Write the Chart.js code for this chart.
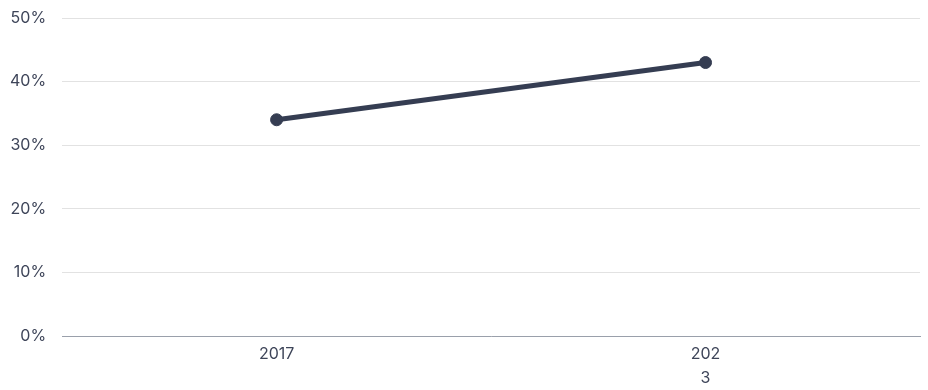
<!DOCTYPE html>
<html>
<head>
<meta charset="utf-8">
<script src="https://cdn.jsdelivr.net/npm/chart.js@4/dist/chart.umd.min.js"></script>
<style>
  html, body { margin: 0; padding: 0; background: #fff; }
  #wrap { width: 928px; height: 390px; }
</style>
</head>
<body>
<div id="wrap"><canvas id="chart"></canvas></div>
<script>
const years = ['2017', ['202', '3']];
const shares = [34, 43];
const yTicks = [0, 10, 20, 30, 40, 50];

const ink = '#353d52';
const textColor = '#3e4559';

const ctx = document.getElementById('chart').getContext('2d');

const myChart = new Chart(ctx, {
  type: 'line',
  data: {
    labels: years,
    datasets: [{
      label: 'Share',
      data: shares,
      borderColor: ink,
      backgroundColor: ink,
      borderWidth: 5,
      pointRadius: 6,
      pointBorderWidth: 1,
      pointHoverRadius: 6,
      tension: 0
    }]
  },
  options: {
    responsive: true,
    maintainAspectRatio: false,
    animation: false,
    layout: { padding: { top: 18, right: 8, bottom: -6, left: -6 } },
    plugins: {
      legend: { display: false },
      tooltip: { enabled: false }
    },
    scales: {
      x: {
        offset: true,
        grid: { display: false, drawTicks: false },
        border: { color: '#9aa0ab', width: 1 },
        ticks: {
          color: textColor,
          font: { family: 'Inter', size: 16, lineHeight: 1.5 },
          padding: 6,
          maxRotation: 0
        }
      },
      y: {
        min: 0,
        max: 50,
        afterBuildTicks: (axis) => { axis.ticks = yTicks.map(v => ({ value: v })); },
        // the tick padding would otherwise push the top gridline down
        afterFit: (axis) => { axis.paddingTop = 0; },
        grid: { color: '#e2e2e2', lineWidth: 1, drawTicks: false },
        border: { display: false },
        ticks: {
          color: textColor,
          font: { family: 'Inter', size: 16 },
          padding: 16,
          callback: (v) => v + '%'
        }
      }
    }
  }
});
</script>
</body>
</html>
